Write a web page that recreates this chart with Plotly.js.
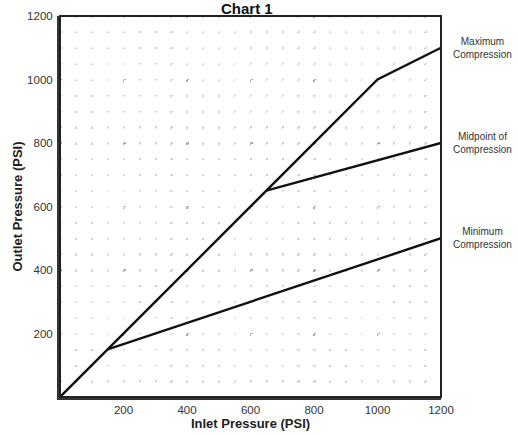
<!DOCTYPE html>
<html>
<head>
<meta charset="utf-8">
<script src="https://cdn.plot.ly/plotly-3.0.1.min.js"></script>
<style>html,body{margin:0;padding:0;background:#fff;}#chart{width:518px;height:435px;}</style>
</head>
<body>
<div id="chart"></div>
<script>
// Data
const maxX = [0, 1000, 1200];
const maxY = [0, 1000, 1100];
const midX = [650, 1200];
const midY = [650, 800];
const minX = [150, 1200];
const minY = [150, 500];
const tickVals = [200, 400, 600, 800, 1000, 1200];
const tickText = ["200", "400", "600", "800", "1000", "1200"];
const labelNames = ["Maximum<br>Compression", "Midpoint of<br>Compression", "Minimum<br>Compression"];
const labelY = [1100, 800, 500];

const FONT = "Liberation Sans, Arial, Helvetica, sans-serif";
const lineStyle = {color: "#111", width: 2.4};

const traces = [
  {x: maxX, y: maxY, mode: "lines", line: lineStyle, hoverinfo: "skip"},
  {x: midX, y: midY, mode: "lines", line: lineStyle, hoverinfo: "skip"},
  {x: minX, y: minY, mode: "lines", line: lineStyle, hoverinfo: "skip"}
];

const W = 518, H = 435, ML = 60, MR = 77, MT = 16, MB = 38;
const pw = W - ML - MR, ph = H - MT - MB;
const stepX = pw / 24, stepY = ph / 24;

function axis(step) {
  return {
    range: [0, 1200],
    tickmode: "array",
    tickvals: tickVals,
    ticktext: tickText,
    ticks: "",
    showline: true,
    linecolor: "#333",
    linewidth: 3,
    showgrid: true,
    gridcolor: "#a8a8a8",
    gridwidth: 1.5,
    griddash: "2px," + (step * 4 - 2).toFixed(3) + "px",
    minor: {
      tickmode: "linear", tick0: 0, dtick: 50,
      showgrid: true, gridcolor: "#d2d2d2", gridwidth: 1.5,
      griddash: "1.5px," + (step - 1.5).toFixed(3) + "px",
      ticks: ""
    },
    zeroline: false,
    fixedrange: true,
    tickfont: {family: FONT, size: 11.5, color: "#333"}
  };
}

const xa = axis(stepY);
xa.title = {text: "<b>Inlet Pressure (PSI)</b>", font: {family: FONT, size: 13, color: "#222"}, standoff: 4};
const ya = axis(stepX);
ya.title = {text: "<b>Outlet Pressure (PSI)</b>", font: {family: FONT, size: 13, color: "#222"}, standoff: 2};
ya.ticklabelstandoff = 2;

const annotations = labelNames.map((t, i) => ({
  xref: "paper", yref: "y", x: 1.025, y: labelY[i], xanchor: "left", yanchor: "middle",
  text: t, showarrow: false, align: "center",
  font: {family: FONT, size: 10, color: "#333"}
}));
annotations.push({
  xref: "paper", yref: "paper", x: 0.49, y: 1.0, yshift: -3, xanchor: "center", yanchor: "bottom",
  text: "<b>Chart 1</b>", showarrow: false,
  font: {family: FONT, size: 15, color: "#111"}
});

const layout = {
  width: W, height: H,
  margin: {l: ML, r: MR, t: MT, b: MB},
  paper_bgcolor: "#fff", plot_bgcolor: "#fff",
  showlegend: false,
  xaxis: xa, yaxis: ya,
  annotations: annotations,
  shapes: [{type: "rect", xref: "paper", yref: "paper", x0: 0, x1: 1, y0: 0, y1: 1, line: {color: "#222", width: 2}}]
};

Plotly.newPlot("chart", traces, layout, {staticPlot: true, displayModeBar: false});
</script>
</body>
</html>
